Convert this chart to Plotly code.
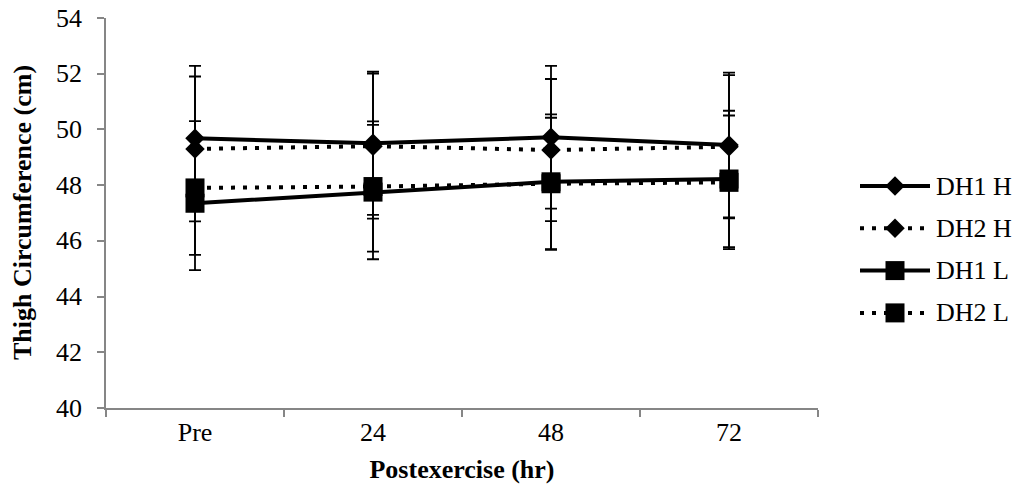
import plotly.graph_objects as go

W, H = 1019, 495

categories = ["Pre", "24", "48", "72"]
y_ticks = [40, 42, 44, 46, 48, 50, 52, 54]

dh1_h = [49.68, 49.50, 49.72, 49.44]
dh1_h_sd = [2.60, 2.57, 2.56, 2.60]
dh2_h = [49.30, 49.40, 49.26, 49.38]
dh2_h_sd = [2.60, 2.60, 2.55, 2.57]
dh1_l = [47.35, 47.75, 48.12, 48.22]
dh1_l_sd = [2.40, 2.41, 2.42, 2.45]
dh2_l = [47.90, 47.95, 48.05, 48.10]
dh2_l_sd = [2.40, 2.34, 2.37, 2.40]

series_names = ["DH1 H", "DH2 H", "DH1 L", "DH2 L"]
series_vals = [dh1_h, dh2_h, dh1_l, dh2_l]
series_sd = [dh1_h_sd, dh2_h_sd, dh1_l_sd, dh2_l_sd]
series_dash = ["solid", "4px,8px", "solid", "4px,8px"]
series_symbol = ["diamond", "diamond", "square", "square"]
series_size = [15, 15, 19, 19]

FONT = "Liberation Serif"
AX = "#868686"
FS = 26

# plot-area pixel box
PL, PR, PT, PB = 106, 818, 18, 408

fig = go.Figure()

for name, vals, sd, dash, sym, sz in zip(series_names, series_vals, series_sd,
                                          series_dash, series_symbol, series_size):
    fig.add_trace(go.Scatter(
        x=categories, y=vals, name=name, mode="lines+markers",
        line=dict(color="black", width=4, dash=dash),
        marker=dict(symbol=sym, size=sz, color="black", line=dict(width=0)),
        error_y=dict(type="data", array=sd, visible=True, color="black",
                     thickness=1.8, width=6),
        showlegend=False, xaxis="x", yaxis="y",
    ))

# y tick labels placed at their data values
for v in y_ticks:
    fig.add_annotation(x=84 / W, xref="paper", y=v, yref="y", text=str(v),
                       showarrow=False, xanchor="right", yanchor="middle",
                       font=dict(family=FONT, size=FS, color="black"))

# y axis title
fig.add_annotation(x=22 / W, xref="paper", y=((H - PB) + (H - PT)) / 2 / H,
                   yref="paper", text="<b>Thigh Circumference (cm)</b>",
                   textangle=-90, showarrow=False, xanchor="center",
                   yanchor="middle",
                   font=dict(family=FONT, size=FS, color="black"))

# custom legend drawn in pixel-mapped overlay axes
LEG_Y0, LEG_DY = 186, 42.3
LEG_X0, LEG_X1 = 860, 930
for i, (name, dash, sym, sz) in enumerate(zip(series_names, series_dash,
                                              series_symbol, series_size)):
    yy = LEG_Y0 + LEG_DY * i
    fig.add_trace(go.Scatter(
        x=[LEG_X0, LEG_X1], y=[yy, yy], mode="lines",
        line=dict(color="black", width=4, dash=dash),
        showlegend=False, hoverinfo="skip", xaxis="x2", yaxis="y2",
    ))
    fig.add_trace(go.Scatter(
        x=[(LEG_X0 + LEG_X1) / 2], y=[yy], mode="markers",
        marker=dict(symbol=sym, size=sz, color="black", line=dict(width=0)),
        showlegend=False, hoverinfo="skip", xaxis="x2", yaxis="y2",
    ))
    fig.add_annotation(x=934, y=yy, xref="x2", yref="y2", text=name,
                       showarrow=False, xanchor="left", yanchor="middle",
                       font=dict(family=FONT, size=FS, color="black"))

fig.update_layout(
    width=W, height=H,
    margin=dict(l=0, r=0, t=0, b=0),
    paper_bgcolor="white", plot_bgcolor="rgba(0,0,0,0)",
    font=dict(family=FONT, size=FS, color="black"),
    xaxis=dict(
        type="category", domain=[PL / W, PR / W], range=[-0.5, 3.5],
        tickson="boundaries", ticks="outside", ticklen=7, tickwidth=1.5,
        tickcolor=AX, showline=True, linecolor=AX, linewidth=1.5,
        showgrid=False, zeroline=False,
        tickfont=dict(family=FONT, size=FS, color="black"),
        title=dict(text="<b>Postexercise (hr)</b>", standoff=14,
                   font=dict(family=FONT, size=FS, color="black")),
        automargin=False, fixedrange=True,
    ),
    yaxis=dict(
        domain=[(H - PB) / H, (H - PT) / H], range=[40, 54],
        tickvals=y_ticks, showticklabels=False,
        ticks="outside", ticklen=7, tickwidth=1.5, tickcolor=AX,
        showline=True, linecolor=AX, linewidth=1.5,
        showgrid=False, zeroline=False,
        automargin=False, fixedrange=True,
    ),
    xaxis2=dict(domain=[0, 1], range=[0, W], visible=False, fixedrange=True,
                anchor="y2"),
    yaxis2=dict(domain=[0, 1], range=[H, 0], visible=False, fixedrange=True,
                anchor="x2"),
)

fig.write_html("out.html")
